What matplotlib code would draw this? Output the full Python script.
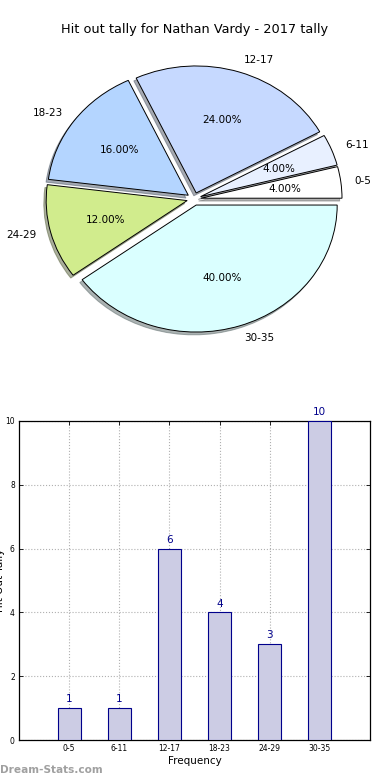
import matplotlib
matplotlib.use("Agg")
import matplotlib.pyplot as plt

categories = ["0-5", "6-11", "12-17", "18-23", "24-29", "30-35"]
counts = [1, 1, 6, 4, 3, 10]
pie_colors = ["#ffffff", "#e8f0ff", "#c6d9ff", "#b4d5ff", "#d1ec8d", "#daffff"]
title = "Hit out tally for Nathan Vardy - 2017 tally"

fig = plt.figure(figsize=(3.9, 7.8), dpi=100)

# Pie axes: 1 data unit = 141 px horizontally, 127 px vertically
cx, cy = 194, 199
rx, ry = 141, 127
lim = 1.3
w_px, h_px = 2 * lim * rx, 2 * lim * ry
ax1 = fig.add_axes([(cx - w_px / 2) / 390, (780 - (cy + h_px / 2)) / 780,
                    w_px / 390, h_px / 780])
wedges, texts, autotexts = ax1.pie(
    counts, labels=categories, colors=pie_colors, explode=[0.05] * 6,
    autopct="%.2f%%", shadow=dict(ox=-0.012, oy=-0.016, shade=0.6),
    startangle=0,
    wedgeprops=dict(edgecolor="black", linewidth=0.7),
    textprops=dict(fontsize=7.5))
ax1.set_aspect("auto")
ax1.set_xlim(-lim, lim)
ax1.set_ylim(-lim, lim)
ax1.axis("off")
fig.text(0.5, 1 - 30 / 780, title, ha="center", va="center", fontsize=9.3)

# Bar axes
ax2 = fig.add_axes([19 / 390, 1 - 740 / 780, (370 - 19) / 390, (740 - 421) / 780])
x = list(range(len(categories)))
bars = ax2.bar(x, counts, width=0.46, color="#cccce4", edgecolor="#00008b",
               linewidth=0.8, zorder=3)
ax2.set_xlim(-1, 6)
ax2.set_ylim(0, 10)
ax2.set_xticks(x)
ax2.set_xticklabels(categories)
ax2.set_yticks([0, 2, 4, 6, 8, 10])
ax2.tick_params(direction="in", top=True, right=True, labelsize=5.5,
                length=3, width=0.6, pad=3)
ax2.grid(True, linestyle=":", color="#b0b0b0", linewidth=0.8, zorder=0)
for s in ax2.spines.values():
    s.set_linewidth(0.9)
for xi, v in zip(x, counts):
    ax2.text(xi, v + 0.12, str(v), ha="center", va="bottom", fontsize=7.5,
             color="#00008b")
ax2.set_xlabel("Frequency", fontsize=7.5, labelpad=2)
fig.text(-0.014, 1 - 580 / 780, "Hit Out Tally", rotation=90, ha="left",
         va="center", fontsize=7.5)

fig.text(0.0, 1 - 770 / 780, "Dream-Stats.com", ha="left", va="center",
         fontsize=7.6, color="#a0a0a0", fontweight="bold")

fig.savefig("out.png", dpi=100)
